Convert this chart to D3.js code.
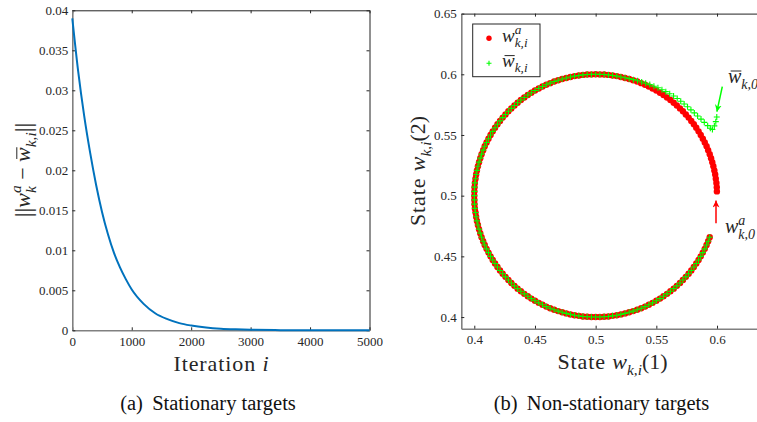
<!DOCTYPE html>
<html>
<head>
<meta charset="utf-8">
<script src="https://cdn.jsdelivr.net/npm/d3@7"></script>
<style>
  body { margin: 0; background: #fff; }
  svg { display: block; }
  svg text { font-family: 'Liberation Serif'; }
</style>
</head>
<body>
<svg id="chart" width="757" height="422"></svg>
<script>
// (a) error norm vs iteration
const iterations = [0, 100, 200, 300, 400, 500, 600, 700, 800, 900, 1000, 1200, 1400, 1600, 1800, 2000, 2250, 2500, 2750, 3000, 3500, 4000, 4500, 5000];
const errorNorm = [0.0390, 0.0323, 0.0268, 0.0222, 0.0182, 0.0148, 0.0120, 0.0097, 0.0079, 0.0064, 0.0051, 0.0033, 0.0021, 0.0014, 0.0009, 0.0006, 0.00035, 0.0002, 0.00012, 0.00007, 0.00002, 0.00001, 0.000003, 0.000001];
const iterTicks = [0, 1000, 2000, 3000, 4000, 5000];
const errTicks = [0, 0.005, 0.01, 0.015, 0.02, 0.025, 0.03, 0.035, 0.04];

// (b) trajectory of w^a_{k,i} (red dots)
const agentState = [
  [0.5999,0.5035],[0.5998,0.5070],[0.5995,0.5105],[0.5990,0.5139],[0.5985,0.5174],[0.5978,0.5208],[0.5970,0.5242],[0.5961,0.5276],
  [0.5951,0.5309],[0.5940,0.5342],[0.5927,0.5375],[0.5914,0.5407],[0.5899,0.5438],[0.5883,0.5469],[0.5866,0.5500],[0.5848,0.5530],
  [0.5829,0.5559],[0.5809,0.5588],[0.5788,0.5616],[0.5766,0.5643],[0.5743,0.5669],[0.5719,0.5695],[0.5695,0.5719],[0.5669,0.5743],
  [0.5643,0.5766],[0.5616,0.5788],[0.5588,0.5809],[0.5559,0.5829],[0.5530,0.5848],[0.5500,0.5866],[0.5469,0.5883],[0.5438,0.5899],
  [0.5407,0.5914],[0.5375,0.5927],[0.5342,0.5940],[0.5309,0.5951],[0.5276,0.5961],[0.5242,0.5970],[0.5208,0.5978],[0.5174,0.5985],
  [0.5139,0.5990],[0.5105,0.5995],[0.5070,0.5998],[0.5035,0.5999],[0.5000,0.6000],[0.4965,0.5999],[0.4930,0.5998],[0.4895,0.5995],
  [0.4861,0.5990],[0.4826,0.5985],[0.4792,0.5978],[0.4758,0.5970],[0.4724,0.5961],[0.4691,0.5951],[0.4658,0.5940],[0.4625,0.5927],
  [0.4593,0.5914],[0.4562,0.5899],[0.4531,0.5883],[0.4500,0.5866],[0.4470,0.5848],[0.4441,0.5829],[0.4412,0.5809],[0.4384,0.5788],
  [0.4357,0.5766],[0.4331,0.5743],[0.4305,0.5719],[0.4281,0.5695],[0.4257,0.5669],[0.4234,0.5643],[0.4212,0.5616],[0.4191,0.5588],
  [0.4171,0.5559],[0.4152,0.5530],[0.4134,0.5500],[0.4117,0.5469],[0.4101,0.5438],[0.4086,0.5407],[0.4073,0.5375],[0.4060,0.5342],
  [0.4049,0.5309],[0.4039,0.5276],[0.4030,0.5242],[0.4022,0.5208],[0.4015,0.5174],[0.4010,0.5139],[0.4005,0.5105],[0.4002,0.5070],
  [0.4001,0.5035],[0.4000,0.5000],[0.4001,0.4965],[0.4002,0.4930],[0.4005,0.4895],[0.4010,0.4861],[0.4015,0.4826],[0.4022,0.4792],
  [0.4030,0.4758],[0.4039,0.4724],[0.4049,0.4691],[0.4060,0.4658],[0.4073,0.4625],[0.4086,0.4593],[0.4101,0.4562],[0.4117,0.4531],
  [0.4134,0.4500],[0.4152,0.4470],[0.4171,0.4441],[0.4191,0.4412],[0.4212,0.4384],[0.4234,0.4357],[0.4257,0.4331],[0.4281,0.4305],
  [0.4305,0.4281],[0.4331,0.4257],[0.4357,0.4234],[0.4384,0.4212],[0.4412,0.4191],[0.4441,0.4171],[0.4470,0.4152],[0.4500,0.4134],
  [0.4531,0.4117],[0.4562,0.4101],[0.4593,0.4086],[0.4625,0.4073],[0.4658,0.4060],[0.4691,0.4049],[0.4724,0.4039],[0.4758,0.4030],
  [0.4792,0.4022],[0.4826,0.4015],[0.4861,0.4010],[0.4895,0.4005],[0.4930,0.4002],[0.4965,0.4001],[0.5000,0.4000],[0.5035,0.4001],
  [0.5070,0.4002],[0.5105,0.4005],[0.5139,0.4010],[0.5174,0.4015],[0.5208,0.4022],[0.5242,0.4030],[0.5276,0.4039],[0.5309,0.4049],
  [0.5342,0.4060],[0.5375,0.4073],[0.5407,0.4086],[0.5438,0.4101],[0.5469,0.4117],[0.5500,0.4134],[0.5530,0.4152],[0.5559,0.4171],
  [0.5588,0.4191],[0.5616,0.4212],[0.5643,0.4234],[0.5669,0.4257],[0.5695,0.4281],[0.5719,0.4305],[0.5743,0.4331],[0.5766,0.4357],
  [0.5788,0.4384],[0.5809,0.4412],[0.5829,0.4441],[0.5848,0.4470],[0.5866,0.4500],[0.5883,0.4531],[0.5899,0.4562],[0.5914,0.4593],
  [0.5927,0.4625],[0.5940,0.4658]
];
// transient of w-bar_{k,i} (green pluses) before it joins the red track
const consensusTransient = [
  [0.5998,0.5648],[0.5990,0.5610],[0.5978,0.5575],[0.5962,0.5545],[0.5945,0.5556],[0.5923,0.5577],[0.5895,0.5604],[0.5868,0.5631],
  [0.5840,0.5656],[0.5813,0.5682],[0.5785,0.5707],[0.5757,0.5732],[0.5729,0.5755],[0.5701,0.5778],[0.5672,0.5801],[0.5642,0.5821],
  [0.5610,0.5840],[0.5578,0.5857],[0.5546,0.5873],[0.5513,0.5889],[0.5480,0.5902],[0.5446,0.5915],[0.5412,0.5926],[0.5379,0.5937],
  [0.5345,0.5947],[0.5311,0.5956],[0.5276,0.5964],[0.5242,0.5971]
];
// once converged the two estimates coincide, from the sample at (0.5208, 0.5978) on
const consensusState = consensusTransient.concat(agentState.slice(38));
const stateTicksX = [0.4, 0.45, 0.5, 0.55, 0.6];
const stateTicksY = [0.4, 0.45, 0.5, 0.55, 0.6, 0.65];

const SERIF = 'Liberation Serif';
const INK = '#262626';
const svg = d3.select('#chart');

function mathText(parent, parts, size, x, y, anchor, rotate) {
  const g = parent.append('g').attr('transform', `translate(${x},${y})` + (rotate ? ` rotate(${rotate})` : ''));
  const inner = g.append('g');
  const t = inner.append('text').style('font-family', SERIF).attr('fill', INK);
  let cx = 0, prevStart = 0;
  const bars = [];
  parts.forEach(p => {
    const fs = p.s ? size * 0.7 : size;
    const dy = p.s === 'sup' ? -size * 0.42 : p.s === 'sub' ? size * 0.28 : 0;
    const start = p.k ? prevStart : cx;
    const sp = t.append('tspan')
      .attr('x', start).attr('y', dy + (p.dy || 0))
      .attr('font-size', p.fs || fs)
      .attr('font-style', p.i ? 'italic' : null)
      .attr('letter-spacing', p.ls || null)
      .text(p.t);
    const w = sp.node().getComputedTextLength();
    if (p.bar) bars.push([start + w * 0.2, start + w * 1.0]);
    prevStart = start;
    cx = Math.max(cx, start + w);
  });
  bars.forEach(b => inner.append('line')
    .attr('x1', b[0]).attr('x2', b[1])
    .attr('y1', -size * 0.6).attr('y2', -size * 0.6)
    .attr('stroke', INK).attr('stroke-width', 1));
  if (anchor === 'middle') inner.attr('transform', `translate(${-cx / 2},0)`);
  return g;
}

function styleAxis(g, domainColor, domainWidth) {
  g.attr('font-family', null).attr('font-size', 13);
  g.selectAll('text').style('font-family', SERIF);
  g.select('.domain').attr('stroke', domainColor).attr('stroke-width', domainWidth);
  g.selectAll('.tick line').attr('stroke', INK);
  g.selectAll('.tick text').attr('fill', INK);
}

// ---------- (a) ----------
const xA = d3.scaleLinear().domain([0, 5000]).range([72.3, 369.5]);
const yA = d3.scaleLinear().domain([0, 0.04]).range([330.3, 10.3]);

svg.append('g').attr('transform', `translate(0,${yA(0.04)})`)
  .call(d3.axisTop(xA).tickValues(iterTicks).tickSize(-3).tickSizeOuter(0).tickFormat(''))
  .call(g => styleAxis(g, '#222', 1));
svg.append('g').attr('transform', `translate(${xA(5000)},0)`)
  .call(d3.axisRight(yA).tickValues(errTicks).tickSize(-3).tickSizeOuter(0).tickFormat(''))
  .call(g => styleAxis(g, '#222', 1));
svg.append('g').attr('transform', `translate(0,${yA(0)})`)
  .call(d3.axisBottom(xA).tickValues(iterTicks).tickSize(-3).tickSizeOuter(0).tickPadding(6.5).tickFormat(d3.format('d')))
  .call(g => styleAxis(g, '#808080', 1.6));
svg.append('g').attr('transform', `translate(${xA(0)},0)`)
  .call(d3.axisLeft(yA).tickValues(errTicks).tickSize(-3).tickSizeOuter(0).tickPadding(4).tickFormat(d => String(d)))
  .call(g => styleAxis(g, '#808080', 1.6));

svg.append('path')
  .datum(iterations.map((d, i) => [d, errorNorm[i]]))
  .attr('fill', 'none')
  .attr('stroke', '#0072BD')
  .attr('stroke-width', 2)
  .attr('d', d3.line().x(d => xA(d[0])).y(d => yA(d[1])).curve(d3.curveMonotoneX));

mathText(svg, [{t: 'Iteration\u00a0', ls: 0.9}, {t: 'i', i: 1}], 22, 221, 371, 'middle');
mathText(svg, [
  {t: '||', fs: 24, dy: 1}, {t: 'w', i: 1}, {t: 'a', i: 1, s: 'sup'}, {t: 'k', i: 1, s: 'sub', k: 1},
  {t: '\u00a0−\u00a0'}, {t: 'w', i: 1, bar: 1}, {t: 'k,i', i: 1, s: 'sub'}, {t: '||', fs: 24, dy: 1}
], 22, 30, 170, 'middle', -90);

// ---------- (b) ----------
const xB = d3.scaleLinear().domain([0.3893, 0.65]).range([461.3, 777.7]);
const yB = d3.scaleLinear().domain([0.3904, 0.65]).range([328.7, 13.6]);

svg.append('g').attr('transform', `translate(0,${yB(0.65)})`)
  .call(d3.axisTop(xB).tickValues(stateTicksX).tickSize(-3).tickSizeOuter(0).tickFormat(''))
  .call(g => styleAxis(g, '#222', 1));
svg.append('g').attr('transform', `translate(0,${yB(0.3904)})`)
  .call(d3.axisBottom(xB).tickValues(stateTicksX).tickSize(-3).tickSizeOuter(0).tickPadding(6.5).tickFormat(d => String(d)))
  .call(g => styleAxis(g, '#808080', 1.6));
svg.append('g').attr('transform', `translate(${xB(0.3893)},0)`)
  .call(d3.axisLeft(yB).tickValues(stateTicksY).tickSize(-3).tickSizeOuter(0).tickPadding(4.5).tickFormat(d => String(d)))
  .call(g => styleAxis(g, '#808080', 1.6));

const plus = 'M-3,0H3M0,-3V3';
svg.append('g').selectAll('circle').data(agentState).join('circle')
  .attr('cx', d => xB(d[0])).attr('cy', d => yB(d[1]))
  .attr('r', 3.2).attr('fill', '#ff0000');
svg.append('g').selectAll('path').data(consensusState).join('path')
  .attr('transform', d => `translate(${xB(d[0])},${yB(d[1])})`)
  .attr('d', plus).attr('stroke', '#00ff00').attr('stroke-width', 1.1).attr('fill', 'none');

// legend
const lg = svg.append('g');
lg.append('rect').attr('x', 472.7).attr('y', 24).attr('width', 67.3).attr('height', 52.7)
  .attr('fill', '#fff').attr('stroke', INK).attr('stroke-width', 1);
lg.append('circle').attr('cx', 489).attr('cy', 38.3).attr('r', 2.7).attr('fill', '#ff0000');
lg.append('path').attr('transform', 'translate(489,63.3)').attr('d', 'M-2.5,0H2.5M0,-2.5V2.5')
  .attr('stroke', '#00ff00').attr('stroke-width', 1.1);
mathText(lg, [{t: 'w', i: 1}, {t: 'a', i: 1, s: 'sup'}, {t: 'k,i', i: 1, s: 'sub', k: 1}], 19, 502, 42, 'start');
mathText(lg, [{t: 'w', i: 1, bar: 1}, {t: 'k,i', i: 1, s: 'sub'}], 19, 502, 67, 'start');

// annotations
const defs = svg.append('defs');
[['headG', '#00ff00'], ['headR', '#ff0000']].forEach(([id, c]) => {
  defs.append('marker').attr('id', id).attr('viewBox', '0 0 10 10')
    .attr('refX', 10).attr('refY', 5).attr('markerWidth', 7).attr('markerHeight', 7)
    .attr('markerUnits', 'userSpaceOnUse').attr('orient', 'auto')
    .append('path').attr('d', 'M0,0L10,5L0,10L3,5Z').attr('fill', c);
});
svg.append('line').attr('x1', 722.3).attr('y1', 86.7).attr('x2', 716.9).attr('y2', 111.7)
  .attr('stroke', '#00ff00').attr('stroke-width', 1.5).attr('marker-end', 'url(#headG)');
svg.append('line').attr('x1', 716).attr('y1', 223.3).attr('x2', 716).attr('y2', 200.5)
  .attr('stroke', '#ff0000').attr('stroke-width', 1.5).attr('marker-end', 'url(#headR)');
mathText(svg, [{t: 'w', i: 1, bar: 1}, {t: 'k,0', i: 1, s: 'sub'}], 20, 728, 83, 'start');
mathText(svg, [{t: 'w', i: 1}, {t: 'a', i: 1, s: 'sup'}, {t: 'k,0', i: 1, s: 'sub', k: 1}], 20, 725, 233, 'start');

mathText(svg, [{t: 'State\u00a0', ls: 0.9}, {t: 'w', i: 1}, {t: 'k,i', i: 1, s: 'sub'}, {t: '(1)'}], 22, 612.5, 369, 'middle');
mathText(svg, [{t: 'State\u00a0', ls: 0.9}, {t: 'w', i: 1}, {t: 'k,i', i: 1, s: 'sub'}, {t: '(2)'}], 22, 425, 171, 'middle', -90);

// captions
svg.append('text').attr('x', 208).attr('y', 410).attr('text-anchor', 'middle')
  .style('font-family', SERIF).attr('font-size', 20.5).attr('fill', '#111')
  .text('(a)\u00a0\u2009Stationary targets');
svg.append('text').attr('x', 601.5).attr('y', 410).attr('text-anchor', 'middle')
  .style('font-family', SERIF).attr('font-size', 20.5).attr('fill', '#111')
  .text('(b)\u00a0\u2009Non-stationary targets');
</script>
</body>
</html>
